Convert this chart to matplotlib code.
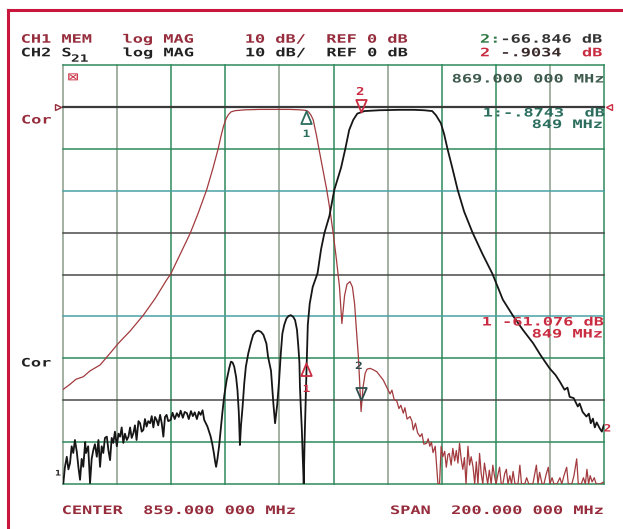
import matplotlib
matplotlib.use("Agg")
import matplotlib.pyplot as plt
import numpy as np
from matplotlib.patheffects import AbstractPathEffect
from matplotlib.transforms import Affine2D, offset_copy
from matplotlib.path import Path
from matplotlib.lines import Line2D

W, H = 623, 529
fig = plt.figure(figsize=(W / 100, H / 100), dpi=100)
fig.patch.set_facecolor("white")

# ---------------- data ----------------
center_mhz = 859.0
span_mhz = 200.0
ref_db = 0.0
db_per_div = 10.0
marker_freqs = [849.0, 869.0]

# CH1 MEM (red trace): frequency in MHz, magnitude in dB
ch1_freq = [759.1, 761.6, 763.8, 766.5, 769.0, 772.7, 776.4, 779.5, 783.8, 788.7,
            793.0, 797.3, 798.8, 802.3, 806.0, 808.9, 812.1, 814.5, 816.4, 817.4,
            818.3, 819.3, 820.1, 821.1, 822.6, 826.3, 831.8, 837.4, 842.9, 846.6,
            848.4, 849.2, 849.9, 850.7, 851.5, 852.8, 853.7, 855.1, 856.5, 857.7,
            858.9, 860.1, 861.2, 861.7, 862.1, 862.5, 863.1, 864.0, 865.1, 866.0,
            866.8, 867.5, 868.2, 868.7, 869.2, 869.4, 869.9, 870.7, 871.4, 872.5,
            873.6, 875.0, 876.2, 877.4, 878.6, 879.9, 880.6, 881.4, 882.4, 883.2,
            883.9, 884.8, 885.4, 886.2, 887.3, 888.0, 888.5, 889.3, 890.1, 891.0,
            891.7, 892.4, 893.4, 894.0, 894.6, 895.2, 895.8, 896.6, 897.6, 898.2,
            898.8, 899.4, 900.1, 900.7, 901.3, 901.8, 902.5, 903.1, 903.8, 904.4,
            905.0, 905.6, 906.2, 906.8, 907.4, 908.0, 908.7, 909.3, 909.9, 910.6,
            911.2, 911.8, 912.4, 913.0, 913.6, 914.2, 914.8, 915.4, 916.0, 916.6,
            917.3, 917.9, 918.5, 919.1, 919.7, 920.4, 921.0, 921.6, 922.3, 922.9,
            923.5, 924.2, 924.8, 925.4, 926.1, 927.2, 927.9, 928.5, 929.7, 930.4,
            931.2, 932.7, 933.4, 934.0, 934.6, 935.2, 936.1, 936.8, 937.5, 938.4,
            939.0, 939.8, 940.5, 941.6, 942.7, 943.4, 944.2, 945.2, 945.8, 947.1,
            947.9, 948.9, 949.5, 950.6, 951.4, 952.1, 952.7, 953.3, 953.9, 954.6,
            955.4, 956.1, 957.5, 959.0]
ch1_db = [-67.4, -66.2, -65.0, -64.4, -63.0, -61.6, -58.8, -56.4, -53.5, -49.7,
          -45.8, -41.3, -39.9, -35.2, -30.2, -25.5, -19.8, -14.5, -9.9, -7.0,
          -4.7, -2.8, -1.9, -1.2, -0.9, -0.7, -0.6, -0.6, -0.6, -0.7,
          -0.8, -0.9, -1.3, -2.0, -3.1, -7.1, -10.3, -15.0, -19.8, -24.6,
          -30.2, -36.5, -42.9, -48.0, -51.7, -49.0, -45.0, -42.3, -41.7, -43.0,
          -47.0, -53.5, -59.6, -66.0, -72.7, -71.0, -67.0, -63.6, -62.6, -62.4,
          -62.7, -63.2, -64.2, -65.2, -66.8, -68.5, -67.6, -69.8, -70.2, -72.0,
          -71.2, -73.1, -71.8, -74.5, -73.9, -75.0, -77.1, -75.5, -77.8, -78.7,
          -78.0, -80.5, -80.3, -79.2, -81.0, -80.0, -82.5, -81.0, -89.9, -90.0,
          -81.0, -83.5, -82.2, -86.0, -83.0, -82.7, -85.5, -81.5, -84.5, -82.0,
          -85.0, -80.3, -84.0, -86.5, -83.7, -90.0, -81.0, -85.5, -83.5, -86.0,
          -90.0, -84.7, -90.0, -82.7, -87.5, -90.0, -85.0, -87.5, -90.0, -86.7,
          -90.0, -85.5, -88.0, -90.0, -88.0, -86.0, -90.0, -90.0, -87.5, -86.5,
          -90.0, -88.0, -90.0, -87.0, -90.0, -90.0, -85.5, -90.0, -90.0, -88.5,
          -90.0, -90.0, -87.5, -85.5, -90.0, -87.2, -90.0, -90.0, -88.0, -86.0,
          -90.0, -88.5, -90.0, -90.0, -88.5, -90.0, -88.0, -86.0, -90.0, -90.0,
          -88.0, -84.0, -90.0, -90.0, -88.5, -90.0, -86.5, -90.0, -88.0, -89.5,
          -88.5, -90.0, -90.0, -89.5]

# CH2 S21 (black trace)
ch2_freq = [759.1, 759.7, 760.4, 761.0, 761.6, 762.2, 762.8, 763.4, 764.1, 764.7,
            765.3, 765.9, 766.5, 767.2, 767.5, 768.3, 769.0, 769.6, 770.2, 770.8,
            771.5, 772.1, 772.7, 773.3, 773.9, 774.5, 775.2, 775.8, 776.4, 777.0,
            777.6, 778.2, 778.9, 779.5, 780.1, 780.7, 781.3, 781.9, 782.6, 783.2,
            783.8, 784.4, 785.0, 785.6, 786.2, 786.9, 787.5, 788.1, 788.7, 789.3,
            789.9, 790.5, 791.2, 791.8, 792.4, 793.0, 793.6, 794.2, 794.9, 795.5,
            796.1, 796.7, 797.3, 797.9, 798.8, 799.5, 800.3, 801.1, 801.8, 802.5,
            803.3, 804.0, 804.8, 805.5, 806.3, 807.0, 807.7, 808.5, 809.2, 809.9,
            810.6, 811.2, 811.8, 812.4, 813.0, 813.6, 814.2, 814.8, 815.2, 815.6,
            816.1, 816.7, 817.3, 817.9, 818.6, 819.5, 820.5, 821.1, 821.7, 822.3,
            823.0, 823.5, 824.0, 824.4, 824.8, 825.4, 826.0, 826.6, 827.5, 828.5,
            829.3, 830.3, 831.2, 832.2, 833.1, 834.2, 834.8, 835.9, 836.4, 836.8,
            837.4, 838.2, 838.9, 839.5, 840.1, 840.8, 841.6, 842.4, 843.2, 844.1,
            844.8, 845.5, 846.0, 846.4, 846.6, 846.9, 847.3, 847.6, 848.0, 848.3,
            848.7, 849.1, 849.5, 850.2, 851.3, 853.1, 854.4, 855.6, 857.5, 859.3,
            861.8, 863.4, 864.8, 866.3, 867.8, 870.4, 875.9, 883.3, 888.8, 892.5,
            895.5, 896.9, 898.7, 899.9, 901.1, 902.9, 904.9, 907.3, 910.4, 914.0,
            917.8, 921.6, 925.4, 929.0, 932.8, 935.6, 938.9, 941.1, 942.6, 944.4,
            945.5, 946.3, 947.8, 949.3, 950.0, 951.1, 952.5, 953.4, 954.1, 954.9,
            955.6, 956.3, 957.4, 958.2, 958.9]
ch2_db = [-90.0, -86.0, -83.5, -86.5, -85.0, -81.0, -82.6, -79.5, -82.3, -86.0,
          -89.0, -84.0, -85.9, -80.0, -82.6, -81.0, -89.8, -84.0, -81.9, -80.5,
          -83.5, -79.5, -85.9, -81.0, -82.6, -79.0, -78.7, -82.0, -84.3, -79.0,
          -80.2, -77.5, -81.0, -78.0, -78.7, -76.5, -80.2, -78.0, -79.5, -78.7,
          -76.5, -79.0, -77.9, -76.0, -79.5, -75.0, -75.5, -77.5, -77.1, -74.5,
          -76.3, -75.0, -75.5, -73.8, -76.5, -74.0, -74.7, -76.0, -73.5, -75.5,
          -78.7, -74.0, -73.5, -75.0, -74.7, -73.0, -74.5, -73.1, -74.0, -72.5,
          -74.2, -72.8, -73.1, -74.5, -72.6, -73.8, -72.9, -74.5, -72.8, -73.5,
          -72.4, -74.7, -75.5, -76.3, -77.5, -78.7, -80.5, -82.7, -84.5, -85.9,
          -84.0, -81.0, -77.0, -73.1, -69.0, -65.2, -62.2, -60.8, -61.0, -62.0,
          -64.5, -67.6, -73.0, -80.7, -76.0, -71.5, -66.0, -62.0, -58.8, -56.2,
          -54.4, -53.6, -53.4, -53.7, -54.4, -56.5, -59.6, -63.0, -67.6, -71.0,
          -75.5, -71.0, -65.2, -59.0, -54.1, -52.0, -50.5, -49.9, -49.7, -50.1,
          -50.9, -53.2, -57.2, -61.0, -66.8, -71.5, -77.1, -83.0, -90.0, -80.0,
          -70.0, -61.0, -52.0, -47.0, -43.0, -39.7, -34.0, -30.2, -26.0, -19.8,
          -14.5, -9.9, -5.5, -3.1, -1.6, -1.0, -0.8, -0.7, -0.7, -0.8,
          -1.0, -2.0, -3.9, -6.5, -9.9, -14.5, -19.8, -25.0, -30.0, -35.0,
          -39.9, -46.0, -49.9, -53.2, -56.4, -59.3, -62.4, -64.0, -65.5, -67.5,
          -67.0, -69.2, -69.5, -71.5, -70.8, -72.8, -73.9, -73.2, -75.5, -74.4,
          -76.5, -75.3, -76.7, -77.5, -76.0]

# texts
hdr1 = "CH1 MEM   log MAG     10 dB/  REF 0 dB"
hdr2_a = "CH2 S"
hdr2_sub = "21"
hdr2_b = "log MAG     10 dB/  REF 0 dB"
readout_ch1_m2 = "-66.846 dB"
readout_ch2_m2 = "-.9034"
readout_ch1_m1 = "1:-.8743  dB"
readout_ch2_m1 = "1 -61.076 dB"
marker_freq_txt = "849 MHz"
stop_txt = "869.000 000 MHz"
center_txt = "CENTER  859.000 000 MHz"
span_txt = "SPAN  200.000 000 MHz"

# ---------------- colours ----------------
RED_TRACE = "#a23a3e"
BLACK_TRACE = "#161616"
MAROON = "#962c3c"
RED = "#c92c40"
DARK = "#222222"
TEAL = "#2c6e5e"
FRAME = "#c8163c"
G_GREEN = "#2f8a5c"
G_TEAL = "#4aa2a6"
G_GRAY = "#8a9c8a"
G_DARK = "#4a4a4a"

# ---------------- axes ----------------
L, R, T, B = 63, 604, 65, 484
ax = fig.add_axes([L / W, 1 - B / H, (R - L) / W, (B - T) / H])
ax.set_facecolor("white")
f0, f1 = center_mhz - span_mhz / 2, center_mhz + span_mhz / 2
top_db = ref_db + db_per_div
bot_db = ref_db - 9 * db_per_div
ax.set_xlim(f0, f1)
ax.set_ylim(bot_db, top_db)
ax.set_xticks([]); ax.set_yticks([])
for s in ax.spines.values():
    s.set_visible(False)

vcols = [G_GRAY, G_GRAY, G_GREEN, G_GREEN, G_GRAY, G_GREEN, G_GRAY, G_GREEN, G_GREEN, G_GRAY, G_GREEN]
hcols = [G_GREEN, G_DARK, G_GREEN, G_TEAL, G_DARK, G_DARK, G_TEAL, G_GREEN, G_DARK, G_GREEN, G_GREEN]
for i in range(11):
    fx = f0 + i * span_mhz / 10
    ax.axvline(fx, color=vcols[i], lw=1.1, zorder=1, clip_on=False)
for i in range(11):
    yv = top_db - i * db_per_div
    if abs(yv - ref_db) < 1e-9:
        ax.axhline(yv, color="#3a3a3a", lw=1.6, zorder=1.5, clip_on=False)
    else:
        ax.axhline(yv, color=hcols[i], lw=1.1, zorder=1, clip_on=False)

ax.plot(ch1_freq, ch1_db, color=RED_TRACE, lw=0.9, zorder=3)
ax.plot(ch2_freq, ch2_db, color=BLACK_TRACE, lw=1.3, zorder=3)

# marker triangles (tip at the trace value)
up_tri = Path([(0, 0), (-0.42, -1), (0.42, -1), (0, 0)], [1, 2, 2, 79])
dn_tri = Path([(0, 0), (-0.42, 1), (0.42, 1), (0, 0)], [1, 2, 2, 79])
m1_ch1 = float(np.interp(marker_freqs[0], ch1_freq, ch1_db))
m2_ch2 = float(np.interp(marker_freqs[1], ch2_freq, ch2_db))
m2_ch1 = float(np.interp(marker_freqs[1], ch1_freq, ch1_db))
m1_ch2 = -61.076
ms = 18
ax.plot([marker_freqs[0]], [m1_ch1], marker=up_tri, ms=ms, mfc="none", mec=TEAL, mew=1.3, ls="none", zorder=4)
ax.plot([marker_freqs[1]], [m2_ch2], marker=dn_tri, ms=ms, mfc="none", mec=RED, mew=1.3, ls="none", zorder=4)
ax.plot([marker_freqs[0]], [m1_ch2], marker=up_tri, ms=ms, mfc="none", mec=RED, mew=1.3, ls="none", zorder=4)
ax.plot([marker_freqs[1]], [m2_ch1], marker=dn_tri, ms=ms, mfc="none", mec="#2d4e4e", mew=1.3, ls="none", zorder=4)

# reference position pointers
lt = offset_copy(ax.transData, fig=fig, x=-5, y=0, units="dots")
rt = offset_copy(ax.transData, fig=fig, x=5, y=0, units="dots")
ax.plot([f0], [ref_db], marker=">", ms=5, mfc="none", mec=MAROON, mew=1.0, transform=lt, clip_on=False, zorder=5)
ax.plot([f1], [ref_db], marker="<", ms=5, mfc="none", mec=RED, mew=1.0, transform=rt, clip_on=False, zorder=5)


# ---------------- text helpers ----------------
class StretchX(AbstractPathEffect):
    def __init__(self, sx):
        super().__init__()
        self.sx = sx

    def draw_path(self, renderer, gc, tpath, affine, rgbFace=None):
        renderer.draw_path(gc, tpath, Affine2D().scale(self.sx, 1.0) + affine, rgbFace)


FS = 8.4
SX = 1.45


def t(x, y, s, color, size=FS, sx=SX, weight="bold"):
    fig.text(x / W, 1 - y / H, s, color=color, fontsize=size, family="DejaVu Sans Mono",
             fontweight=weight, ha="left", va="baseline", path_effects=[StretchX(sx)])


# header
t(20.7, 42.7, hdr1, MAROON)
t(20.7, 56.3, hdr2_a, DARK)
t(71.0, 61.7, hdr2_sub, DARK, size=7.2)
t(122.7, 56.3, hdr2_b, DARK)
t(480, 42.7, "2:", "#2f7a44")
t(500.4, 42.7, readout_ch1_m2, "#333333")
t(480, 56.3, "2", RED)
t(500.4, 56.3, readout_ch2_m2, "#3a2a2a")
t(582.0, 56.3, "dB", RED)

# inside grid
t(451.7, 82.5, stop_txt, "#3d5a4c")
t(67.5, 81.0, "⊠", RED, size=9.5, sx=1.4, weight="normal")

t(482.7, 116.5, readout_ch1_m1, TEAL)
t(531.7, 128.0, marker_freq_txt, TEAL)

t(481.7, 325.5, readout_ch2_m1, RED)
t(531.7, 337.5, marker_freq_txt, RED)

# marker numbers
t(302.5, 137.0, "1", TEAL, size=7.2, sx=1.3)
t(356.0, 95.0, "2", RED, size=7.8, sx=1.3)
t(302.5, 392.0, "1", RED, size=7.2, sx=1.3)
t(355.0, 369.0, "2", "#2d4e4e", size=7.2, sx=1.3)
t(55.0, 475.5, "1", DARK, size=5.5, sx=1.3)
t(603.5, 431.5, "2", RED, size=7.2, sx=1.3)

# Cor labels
t(21.0, 123.5, "Cor", MAROON)
t(20.7, 366.5, "Cor", DARK)

# bottom line
t(61.7, 514.0, center_txt, MAROON)
t(390.0, 514.0, span_txt, MAROON)

# red frame
fig.add_artist(Line2D([7.5 / W, 7.5 / W], [0, 1 - 10 / H], color=FRAME, lw=2.2, transform=fig.transFigure))
fig.add_artist(Line2D([7.5 / W, 1.0], [1 - 10 / H, 1 - 10 / H], color=FRAME, lw=2.2, transform=fig.transFigure))

fig.savefig("out.png", dpi=100, facecolor="white")
